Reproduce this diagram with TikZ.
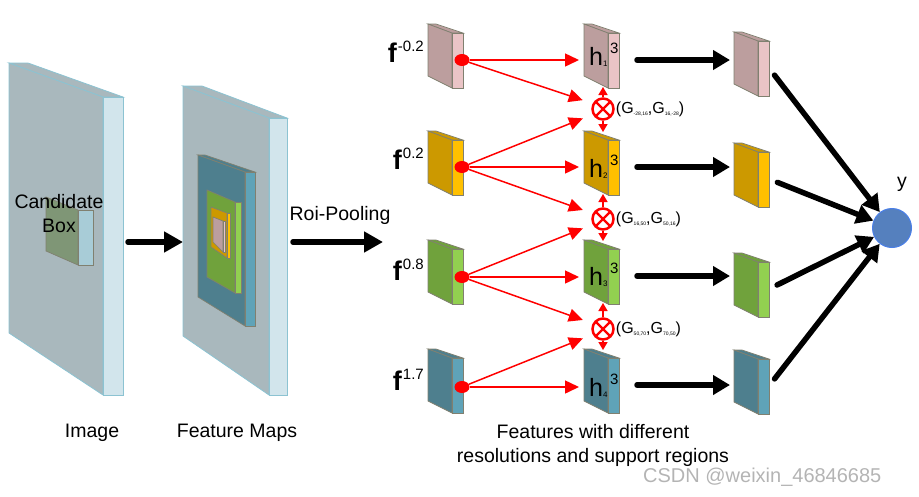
\documentclass[tikz,border=0pt]{standalone}
\usepackage{fontspec}
\setmainfont{Liberation Sans}
\usepackage{tikz}
\usetikzlibrary{shapes.geometric,arrows.meta,positioning}

\definecolor{slabF}{HTML}{A9B8BD}
\definecolor{slabS}{HTML}{D2E5EC}
\definecolor{slabB}{HTML}{8CC3D2}
\definecolor{boxF}{HTML}{7F9676}
\definecolor{boxS}{HTML}{A8CCD7}
\definecolor{edge}{HTML}{808070}
\definecolor{pinkF}{HTML}{BC9E9E}
\definecolor{pinkS}{HTML}{EAC4C6}
\definecolor{goldF}{HTML}{CC9900}
\definecolor{goldS}{HTML}{FFC000}
\definecolor{leafF}{HTML}{70A23C}
\definecolor{leafS}{HTML}{92D050}
\definecolor{tealF}{HTML}{4E7F8E}
\definecolor{tealS}{HTML}{5FA3B8}
\definecolor{yblue}{HTML}{5580BE}
\definecolor{yring}{HTML}{4A7FE8}
\definecolor{mark}{HTML}{B4B4B4}

\newcommand{\fslab}[4]{%
  \filldraw[Edge, fill=#4F] (#2,#3) -- ++(8,0) -- ++(27,9) -- ++(-11,0) -- cycle;
  \filldraw[Edge, fill=#4F] (#2,#3) -- ++(24,9) -- ++(0,55) -- ++(-24,-12) -- cycle;
  \filldraw[Edge, fill=#4S] (#2+24,#3+9) -- ++(11,0) -- ++(0,55) -- ++(-11,0) -- cycle;
  \coordinate (#1-w) at (#2,#3+36);
  \coordinate (#1-e) at (#2+35,#3+36);
  \coordinate (#1-n) at (#2+19,#3+1);
  \coordinate (#1-s) at (#2+19,#3+63);
}
\newcommand{\fsup}[1]{\kern1pt\raisebox{10.5pt}{\fontsize{15}{15}\mdseries\selectfont#1}}
\newcommand{\hsub}[1]{\raisebox{-1.5pt}{\fontsize{8}{8}\selectfont#1}}
\newcommand{\hsup}[1]{\kern2.5pt\raisebox{12pt}{\fontsize{15}{15}\selectfont#1}}
\newcommand{\gsub}[1]{\raisebox{-2.5pt}{\fontsize{5}{5}\selectfont#1}}

\begin{document}
\begin{tikzpicture}[x=1pt,y=-1pt]
	\tikzstyle{Edge}	= [draw=edge, line width=0.7pt]
	\tikzstyle{Plate}	= [draw=slabB, line width=0.8pt]
	\tikzstyle{Txt}		= [font=\fontsize{19.5}{24}\selectfont, inner sep=0pt]
	\tikzstyle{Flab}	= [font=\fontsize{27}{27}\selectfont\bfseries, inner sep=0pt]
	\tikzstyle{Hlab}	= [font=\fontsize{25}{25}\selectfont, inner sep=0pt]
	\tikzstyle{Glab}	= [font=\fontsize{16}{16}\selectfont, inner sep=0pt]
	\tikzstyle{Dot}		= [ellipse, fill=red, minimum width=15pt, minimum height=12pt, inner sep=0pt]
	\tikzstyle{Mix}		= [circle, draw=red, line width=2.5pt, minimum size=21pt, inner sep=0pt,
		path picture={\draw[red, line width=2.2pt] (path picture bounding box.north west) -- (path picture bounding box.south east)
			(path picture bounding box.north east) -- (path picture bounding box.south west);}]
	\tikzstyle{Red}		= [red, line width=1.5pt, -{Triangle[length=14pt,width=13pt]}]
	\tikzstyle{RedV}	= [red, line width=1.5pt, -{Triangle[length=8pt,width=9pt]}]
	\tikzstyle{Big}		= [line width=5.5pt, line cap=round, -{Triangle[length=19pt,width=20pt]}]
	\tikzstyle{Mid}		= [line width=5.5pt, line cap=round, -{Triangle[length=17pt,width=19pt]}]
	\tikzstyle{Out}		= [circle, fill=yblue, draw=yring, line width=1pt, minimum size=39pt, inner sep=0pt]

	\useasboundingbox (0,0) rectangle (919,496);

	% image with candidate box
	\filldraw[Plate, fill=slabF] (9,63) -- (28,63) -- (123,97) -- (103,97) -- cycle;
	\filldraw[Plate, fill=slabF] (9,63) -- (103,97) -- (103,395) -- (9,333) -- cycle;
	\filldraw[Plate, fill=slabS] (103,97) -- (123,97) -- (123,395) -- (103,395) -- cycle;
	\filldraw[Edge, fill=boxF] (46,197) -- (78,210) -- (78,265) -- (46,251) -- cycle;
	\filldraw[Edge, fill=boxS] (78,210) -- (93,210) -- (93,265) -- (78,265) -- cycle;
	\coordinate (img-e) at (123,242);
	\node[Txt, align=center] (cand) at (59,214) {Candidate\\Box};

	% feature maps
	\filldraw[Plate, fill=slabF] (183,86) -- (202,86) -- (287,118) -- (269,118) -- cycle;
	\filldraw[Plate, fill=slabF] (183,86) -- (269,118) -- (269,395) -- (183,336) -- cycle;
	\filldraw[Plate, fill=slabS] (269,118) -- (287,118) -- (287,395) -- (269,395) -- cycle;
	\filldraw[Edge, fill=tealF] (198,155) -- (205,155) -- (255,172) -- (245,172) -- cycle;
	\filldraw[Edge, fill=tealF] (198,155) -- (245,172) -- (245,326) -- (198,297) -- cycle;
	\filldraw[Edge, fill=tealS] (245,172) -- (255,172) -- (255,326) -- (245,326) -- cycle;
	\filldraw[Edge, fill=leafF] (207,190) -- (235,202) -- (235,293) -- (207,277) -- cycle;
	\filldraw[Edge, fill=leafS] (235,202) -- (241,202) -- (241,293) -- (235,293) -- cycle;
	\filldraw[Edge, fill=goldF] (211,207) -- (227,213) -- (227,258) -- (211,247) -- cycle;
	\filldraw[Edge, fill=goldS] (227,213) -- (230,213) -- (230,258) -- (227,258) -- cycle;
	\filldraw[Edge, fill=pinkF] (213,217) -- (223,221) -- (223,252) -- (213,242) -- cycle;
	\filldraw[Edge, fill=pinkS] (223,221) -- (225,221) -- (225,252) -- (223,252) -- cycle;
	\coordinate (fm-w) at (183,242);
	\coordinate (fm-e) at (287,242);
	\coordinate (roi) at (383,242);

	\draw[Big, shorten <=5pt] (img-e) -- (fm-w);
	\draw[Big, shorten <=6pt] (fm-e) -- (roi);
	\node[Txt, anchor=base] (roilab) at (340,220) {Roi-Pooling};
	\node[Txt, anchor=base] (imglab) at (92,437) {Image};
	\node[Txt, anchor=base] (fmlab) at (237,437) {Feature Maps};

	% pooled features
	\fslab{fs1}{428}{24}{pink}
	\fslab{fs2}{428}{131}{gold}
	\fslab{fs3}{428}{240}{leaf}
	\fslab{fs4}{428}{349}{teal}
	\fslab{hs1}{584}{24}{pink}
	\fslab{hs2}{584}{131}{gold}
	\fslab{hs3}{584}{240}{leaf}
	\fslab{hs4}{584}{349}{teal}
	\fslab{os1}{734}{32}{pink}
	\fslab{os2}{734}{143}{gold}
	\fslab{os3}{734}{253}{leaf}
	\fslab{os4}{734}{350}{teal}

	\node[Flab, anchor=base east] (f1) at (424,62) {f\fsup{-0.2}};
	\node[Flab, anchor=base east] (f2) at (424,169) {f\fsup{0.2}};
	\node[Flab, anchor=base east] (f3) at (424,280) {f\fsup{0.8}};
	\node[Flab, anchor=base east] (f4) at (424,390) {f\fsup{1.7}};

	\node[Dot] (d1) at (462,60) {};
	\node[Dot] (d2) at (462,167) {};
	\node[Dot] (d3) at (462,277) {};
	\node[Dot] (d4) at (462,387) {};

	\node[Hlab, anchor=base west] (h1) at (589,65) {h\hsub{1}\hsup{3}};
	\node[Hlab, anchor=base west] (h2) at (589,177) {h\hsub{2}\hsup{3}};
	\node[Hlab, anchor=base west] (h3) at (589,285) {h\hsub{3}\hsup{3}};
	\node[Hlab, anchor=base west] (h4) at (589,396) {h\hsub{4}\hsup{3}};

	\node[Mix] (o1) at (603,109) {};
	\node[Mix] (o2) at (603,219) {};
	\node[Mix] (o3) at (603,329) {};
	\node[Glab, right=1pt of o1] (g1) {(G\gsub{-28,16},G\gsub{16,-28})};
	\node[Glab, right=1pt of o2] (g2) {(G\gsub{16,50},G\gsub{50,16})};
	\node[Glab, right=1pt of o3] (g3) {(G\gsub{50,70},G\gsub{70,50})};

	\draw[Red, shorten >=5pt] (d1) -- (d1 -| hs1-w);
	\draw[Red, shorten >=5pt] (d2) -- (d2 -| hs2-w);
	\draw[Red, shorten >=5pt] (d3) -- (d3 -| hs3-w);
	\draw[Red, shorten >=5pt] (d4) -- (d4 -| hs4-w);
	\draw[Red, shorten >=9pt] (d1) -- ([yshift=6pt]o1.west);
	\draw[Red, shorten >=9pt] (d2) -- ([yshift=-6pt]o1.west);
	\draw[Red, shorten >=9pt] (d2) -- ([yshift=6pt]o2.west);
	\draw[Red, shorten >=9pt] (d3) -- ([yshift=-6pt]o2.west);
	\draw[Red, shorten >=9pt] (d3) -- ([yshift=6pt]o3.west);
	\draw[Red, shorten >=9pt] (d4) -- ([yshift=-6pt]o3.west);
	\draw[RedV] (o1) -- (hs1-s);
	\draw[RedV] (o1) -- (hs2-n);
	\draw[RedV] (o2) -- (hs2-s);
	\draw[RedV] (o2) -- (hs3-n);
	\draw[RedV] (o3) -- (hs3-s);
	\draw[RedV] (o3) -- (hs4-n);

	\draw[Mid, shorten <=18pt, shorten >=4pt] (hs1-e) -- (hs1-e -| os1-w);
	\draw[Mid, shorten <=18pt, shorten >=4pt] (hs2-e) -- (hs2-e -| os2-w);
	\draw[Mid, shorten <=18pt, shorten >=4pt] (hs3-e) -- (hs3-e -| os3-w);
	\draw[Mid, shorten <=18pt, shorten >=4pt] (hs4-e) -- (hs4-e -| os4-w);

	% output
	\node[Out] (yn) at (892,228) {};
	\node[Txt, anchor=base] (ylab) at (902,187) {y};
	\draw[Mid, shorten <=9pt] (os1-e) -- (yn);
	\draw[Mid, shorten <=9pt] (os2-e) -- (yn);
	\draw[Mid, shorten <=9pt] (os3-e) -- (yn);
	\draw[Mid, shorten <=9pt] (os4-e) -- (yn);

	\node[Txt, align=center] (cap) at (593,445) {Features with different\\resolutions and support regions};
	\node[Txt, anchor=base west, font=\fontsize{20}{20}\selectfont, text=mark] (wm) at (643,482) {CSDN @weixin\_46846685};
\end{tikzpicture}
\end{document}
